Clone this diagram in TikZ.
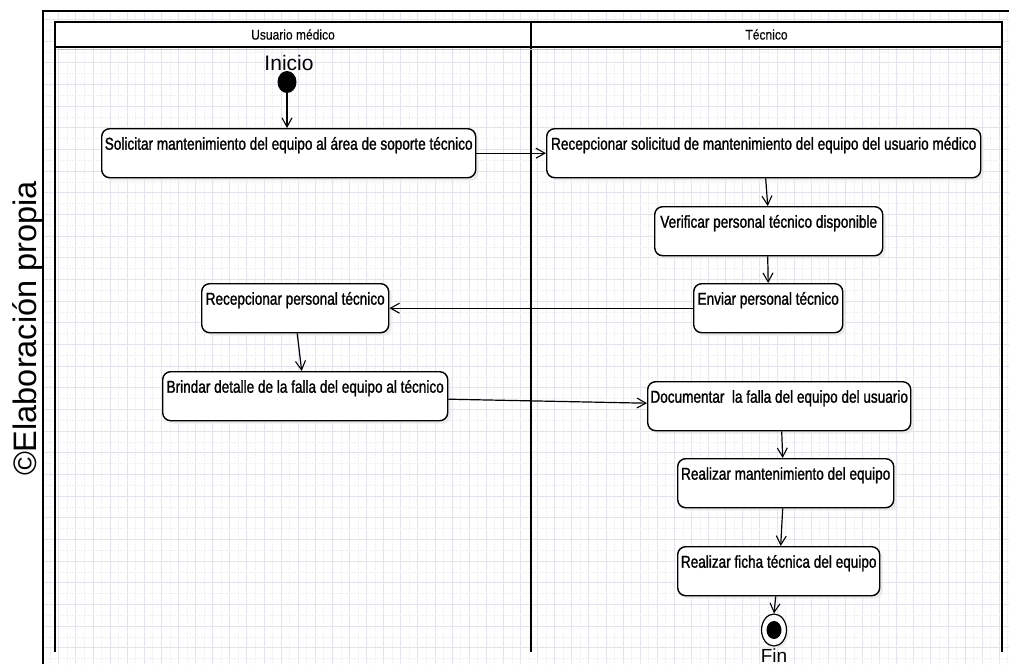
\documentclass[tikz,border=0pt]{standalone}
\usepackage{fontspec}
\setmainfont{Liberation Sans}
\newfontfamily\boxfont[FakeStretch=0.79,FakeBold=1.3]{Liberation Sans}
\newfontfamily\headfont[FakeStretch=0.86,FakeBold=0.3]{Liberation Sans}
\usetikzlibrary{arrows.meta,shadows,calc,shapes.geometric}
\definecolor{gridc}{RGB}{226,229,240}
\definecolor{gridd}{RGB}{238,240,246}
\begin{document}
\begin{tikzpicture}[x=1pt,y=-1pt,
  act/.style={draw, line width=1.4pt, rounded corners=8pt, fill=white, inner sep=0pt,
    minimum height=49pt, text height=21pt, text depth=28pt,
    font=\boxfont\fontsize{17.2}{20}\selectfont, anchor=north west,
    drop shadow={shadow xshift=3pt, shadow yshift=-3pt, fill=black!10, opacity=0.7}},
  arr/.style={draw, line width=1.2pt, -{Straight Barb[length=9pt,width=10pt,line width=1.1pt]}},
  lane/.style={line width=2pt},
  gridline/.style={draw=gridc, line width=0.6pt},
  subgrid/.style={draw=gridd, line width=0.5pt, densely dotted},
  headlbl/.style={font=\headfont\fontsize{14}{16}\selectfont},
]
\useasboundingbox (0,0) rectangle (1009,664);
\fill[white] (0,0) rectangle (1009,664);
% grid
\begin{scope}
\clip (43,11) rectangle (1009,664);
\foreach \i in {0,...,57} {
  \draw[subgrid] ({41.5+17.1*\i+8.55},11) -- ({41.5+17.1*\i+8.55},664);
  \draw[gridline] ({41.5+17.1*\i},11) -- ({41.5+17.1*\i},664);
}
\foreach \j in {-1,...,29} {
  \draw[subgrid] (43,{41+21.67*\j+10.83}) -- (1009,{41+21.67*\j+10.83});
  \draw[gridline] (43,{41+21.67*\j}) -- (1009,{41+21.67*\j});
}
\end{scope}
\fill[white] (55,22) rectangle (1002,47);
% frames
\draw[line width=1.5pt] (43,664) -- (43,11) -- (1009,11);
\draw[lane] (55,652) -- (55,22) -- (1002,22) -- (1002,652);
\draw[lane] (531,22) -- (531,652);
\draw[lane] (55,47) -- (1002,47);
\draw[black!25, line width=1pt] (57,49.5) -- (1000,49.5);
% lane headers
\node[headlbl] (lane1) at (293,34.5) {Usuario médico};
\node[headlbl] (lane2) at (766.5,34.5) {Técnico};
% side credit
\node[font=\fontsize{32.5}{36}\selectfont, rotate=90, anchor=base] (credit) at (36,328.5) {©Elaboración propia};
% start
\node[font=\fontsize{21}{24}\selectfont, anchor=base] (ini) at (289,70) {Inicio};
\node[ellipse, fill=black, minimum width=19pt, minimum height=22pt, inner sep=0pt] (start) at (287,82) {};
% activities
\node[act, minimum width=374pt] (s1) at (101,128) {Solicitar mantenimiento del equipo al área de soporte técnico};
\node[act, minimum width=434pt] (r1) at (546,128) {Recepcionar solicitud de mantenimiento del equipo del usuario médico};
\node[act, minimum width=228pt] (ver) at (654,206) {Verificar personal técnico disponible};
\node[act, minimum width=149pt] (env) at (693,283) {Enviar personal técnico};
\node[act, minimum width=187pt] (rp) at (201,283) {Recepcionar personal técnico};
\node[act, minimum width=285pt] (br) at (162,371) {Brindar detalle de la falla del equipo al técnico};
\node[act, minimum width=263pt] (doc) at (647,381) {Documentar\ \ la falla del equipo del usuario};
\node[act, minimum width=216pt] (rm) at (677,458) {Realizar mantenimiento del equipo};
\node[act, minimum width=202pt] (rf) at (677,546) {Realizar ficha técnica del equipo};
% end
\node[ellipse, draw, line width=1.2pt, fill=white, minimum width=25pt, minimum height=32pt, inner sep=0pt,
  drop shadow={shadow xshift=2pt, shadow yshift=-2pt, fill=black!10, opacity=0.7}] (end) at (774,630) {};
\node[ellipse, fill=black, minimum width=15pt, minimum height=18pt, inner sep=0pt] (endin) at (end.center) {};
\node[font=\fontsize{19}{22}\selectfont, anchor=base] (fin) at (774,662) {Fin};
% connectors
\draw[arr] (start.south) -- (start.south |- s1.north);
\draw[arr] (s1.east) -- (r1.west);
\draw[arr] ($(r1.south)+(2,0)$) -- ($(ver.north)+(-1,0)$);
\draw[arr] ($(ver.south)+(-1,0)$) -- (env.north);
\draw[arr] (env.west) -- (rp.east);
\draw[arr] ($(rp.south)+(2,0)$) -- ($(br.north)+(-3.5,0)$);
\draw[arr] ($(br.east)+(0,3)$) -- ($(doc.west)+(0,-3)$);
\draw[arr] ($(doc.south)+(2.5,0)$) -- ($(rm.north)+(-3,0)$);
\draw[arr] ($(rm.south)+(-3,0)$) -- ($(rf.north)+(2,0)$);
\draw[arr] ($(rf.south)+(-3,0)$) -- (end.north);
\end{tikzpicture}
\end{document}
